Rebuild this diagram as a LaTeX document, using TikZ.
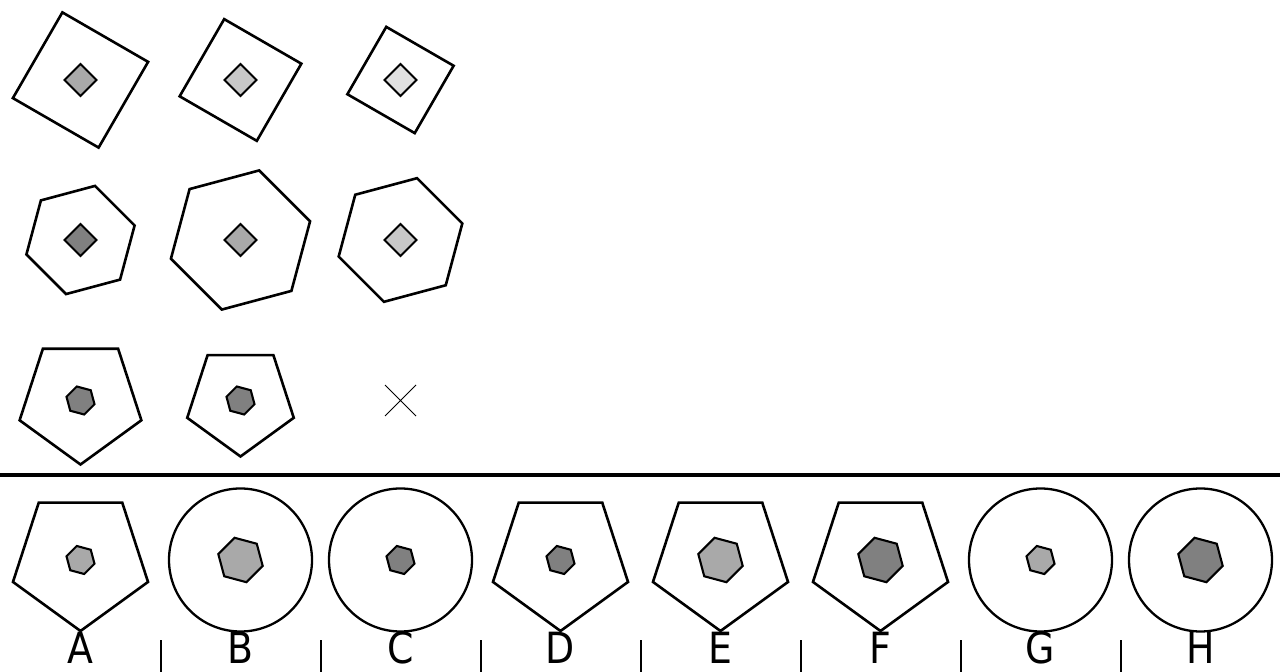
\documentclass[tikz,border=0pt]{standalone}
\usepackage{fontspec}
\setsansfont{DejaVu Sans}[FakeStretch=0.88]
\definecolor{xamdam}{HTML}{808080}
\definecolor{xamvua}{HTML}{A9A9A9}
\definecolor{xamnhat}{HTML}{C8C8C8}
\definecolor{xamtrang}{HTML}{E0E0E0}
\begin{document}
\begin{tikzpicture}[x=1pt, y=1pt, line join=miter, line cap=rect,
	vien/.style={draw, line width=2.6pt},
	loi/.style={draw, line width=2.1pt},
	nhan/.style={font=\sffamily\fontsize{43}{43}\selectfont, anchor=base, inner sep=0pt}]
	\useasboundingbox (0,0) rectangle (1280,672);
	
	% Hàng 1: hình vuông
	\draw[vien, shift={(80.5,592)}] (15:70) -- (105:70) -- (195:70) -- (285:70) -- cycle;
	\draw[loi, fill=xamvua, shift={(80.5,592)}] (0:16) -- (90:16) -- (180:16) -- (270:16) -- cycle;
	\draw[vien, shift={(240.5,592)}] (15:63) -- (105:63) -- (195:63) -- (285:63) -- cycle;
	\draw[loi, fill=xamnhat, shift={(240.5,592)}] (0:16) -- (90:16) -- (180:16) -- (270:16) -- cycle;
	\draw[vien, shift={(400.5,592)}] (15:55) -- (105:55) -- (195:55) -- (285:55) -- cycle;
	\draw[loi, fill=xamtrang, shift={(400.5,592)}] (0:16) -- (90:16) -- (180:16) -- (270:16) -- cycle;
	
	% Hàng 2: lục giác
	\draw[vien, shift={(80.5,432)}] (15:56) \foreach \g in {75,135,195,255,315} {-- (\g:56)} -- cycle;
	\draw[loi, fill=xamdam, shift={(80.5,432)}] (0:16) -- (90:16) -- (180:16) -- (270:16) -- cycle;
	\draw[vien, shift={(240.5,432)}] (15:72) \foreach \g in {75,135,195,255,315} {-- (\g:72)} -- cycle;
	\draw[loi, fill=xamvua, shift={(240.5,432)}] (0:16) -- (90:16) -- (180:16) -- (270:16) -- cycle;
	\draw[vien, shift={(400.5,432)}] (15:64) \foreach \g in {75,135,195,255,315} {-- (\g:64)} -- cycle;
	\draw[loi, fill=xamnhat, shift={(400.5,432)}] (0:16) -- (90:16) -- (180:16) -- (270:16) -- cycle;
	
	% Hàng 3: ngũ giác
	\draw[vien, shift={(80.5,271.5)}] (-90:64) \foreach \g in {-18,54,126,198} {-- (\g:64)} -- cycle;
	\draw[loi, fill=xamdam, shift={(80.5,271.5)}] (45:14.5) \foreach \g in {105,165,225,285,345} {-- (\g:14.5)} -- cycle;
	\draw[vien, shift={(240.5,271.5)}] (-90:56) \foreach \g in {-18,54,126,198} {-- (\g:56)} -- cycle;
	\draw[loi, fill=xamdam, shift={(240.5,271.5)}] (45:14.5) \foreach \g in {105,165,225,285,345} {-- (\g:14.5)} -- cycle;
	\draw[line width=0.8pt, line cap=butt, shift={(400.5,271.5)}] (-15.5,-15.5) -- (15.5,15.5) (-15.5,15.5) -- (15.5,-15.5);
	
	% Đường phân cách
	\draw[line width=4.6pt, line cap=butt] (0,197) -- (1280,197);
	
	% Các phương án
	\draw[vien, shift={(80.5,112)}] (-90:71) \foreach \g in {-18,54,126,198} {-- (\g:71)} -- cycle;
	\draw[loi, fill=xamvua, shift={(80.5,112)}] (45:14.5) \foreach \g in {105,165,225,285,345} {-- (\g:14.5)} -- cycle;
	\draw[line width=2.3pt] (240.5,112) circle (71.5);
	\draw[loi, fill=xamvua, shift={(240.5,112)}] (45:23) \foreach \g in {105,165,225,285,345} {-- (\g:23)} -- cycle;
	\draw[line width=2.3pt] (400.5,112) circle (71.5);
	\draw[loi, fill=xamdam, shift={(400.5,112)}] (45:14.5) \foreach \g in {105,165,225,285,345} {-- (\g:14.5)} -- cycle;
	\draw[vien, shift={(560.5,112)}] (-90:71) \foreach \g in {-18,54,126,198} {-- (\g:71)} -- cycle;
	\draw[loi, fill=xamdam, shift={(560.5,112)}] (45:14.5) \foreach \g in {105,165,225,285,345} {-- (\g:14.5)} -- cycle;
	\draw[vien, shift={(720.5,112)}] (-90:71) \foreach \g in {-18,54,126,198} {-- (\g:71)} -- cycle;
	\draw[loi, fill=xamvua, shift={(720.5,112)}] (45:23) \foreach \g in {105,165,225,285,345} {-- (\g:23)} -- cycle;
	\draw[vien, shift={(880.5,112)}] (-90:71) \foreach \g in {-18,54,126,198} {-- (\g:71)} -- cycle;
	\draw[loi, fill=xamdam, shift={(880.5,112)}] (45:23) \foreach \g in {105,165,225,285,345} {-- (\g:23)} -- cycle;
	\draw[line width=2.3pt] (1040.5,112) circle (71.5);
	\draw[loi, fill=xamvua, shift={(1040.5,112)}] (45:14.5) \foreach \g in {105,165,225,285,345} {-- (\g:14.5)} -- cycle;
	\draw[line width=2.3pt] (1200.5,112) circle (71.5);
	\draw[loi, fill=xamdam, shift={(1200.5,112)}] (45:23) \foreach \g in {105,165,225,285,345} {-- (\g:23)} -- cycle;
	
	% Nhãn và vạch ngăn
	\foreach \ten [count=\i from 0] in {A,B,C,D,E,F,G,H} {
		\node[nhan] (nhan\ten) at (80.5+160*\i, 8.5) {\ten};
	}
	\foreach \i in {1,...,7} {
		\draw[line width=2pt, line cap=butt] (160*\i+1, 0) -- ++(0,32);
	}
\end{tikzpicture}
\end{document}
